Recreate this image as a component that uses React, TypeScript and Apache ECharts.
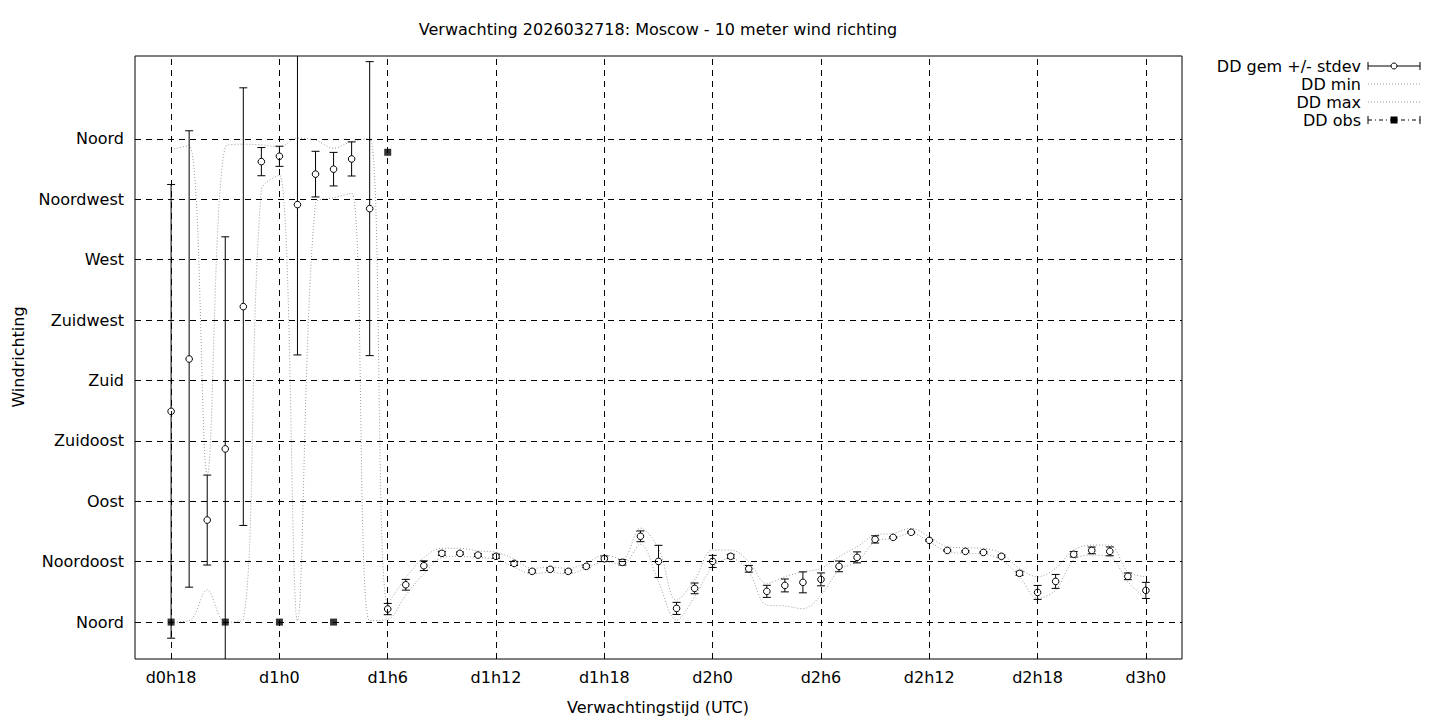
import React, { useEffect, useRef } from "react";
import * as echarts from "echarts";

const hours = [18, 19, 20, 21, 22, 23, 24, 25, 26, 27, 28, 29, 30, 31, 32, 33, 34, 35, 36, 37, 38, 39, 40, 41, 42, 43, 44, 45, 46, 47, 48, 49, 50, 51, 52, 53, 54, 55, 56, 57, 58, 59, 60, 61, 62, 63, 64, 65, 66, 67, 68, 69, 70, 71, 72];
const ddMean = [157, 196, 76, 129, 235, 343, 347, 311, 333.7, 337.4, 345, 308, 9.7, 27.8, 42, 51.2, 51.2, 49.9, 49, 43.7, 37.8, 39.3, 37.8, 41.5, 47.2, 44.5, 63.9, 45.2, 10.2, 25.1, 45.2, 49, 39.7, 22.9, 27.3, 29.6, 31.8, 41.5, 48.2, 61.6, 63.1, 66.9, 60.9, 53.4, 52.7, 51.9, 49, 36.3, 22.1, 30.3, 50.5, 53.4, 52.7, 34.1, 23.6];
const ddStdev = [169, 170, 33.5, 158, 163, 10.5, 7.5, 112, 17, 12.5, 12.7, 109.5, 4.2, 4, 3.6, 1.5, 1, 1, 1.5, 1.5, 1, 1, 1, 1, 2, 2, 4, 12, 4.5, 4, 4.5, 1.5, 2.5, 4.5, 4.8, 7.8, 4.8, 4, 4.1, 2.7, 0.5, 0.5, 0.5, 0.5, 0.5, 0.5, 1, 1.5, 5.2, 5.2, 2, 2.5, 3.3, 2.5, 6];
const ddMax = [352, 355, 110, 354, 356, 355.5, 354, 360.5, 359, 353, 358, 360.5, 14, 33, 48, 55, 55, 53, 52, 47, 40, 41, 40, 44, 50, 47, 70, 55, 16.4, 31.3, 53.7, 53.7, 45, 28.8, 33.8, 37.5, 40, 48.7, 56.1, 64.8, 66.1, 69.8, 63.6, 56.1, 55.4, 54.9, 51.2, 40, 33.8, 40, 53.7, 57.4, 57.4, 37.5, 33.8];
const ddMin = [0, 1, 24, 0, 2, 322, 333, 1, 312, 316, 319.5, 1, 2, 20, 36, 48, 49, 48, 47, 41, 36, 37, 36, 40, 45, 43, 58, 30, 1.5, 18.9, 41.2, 47.5, 37.5, 12.7, 12, 10, 20, 38.8, 45, 59.9, 62.4, 66.1, 59.9, 52.4, 51.2, 50.7, 46.2, 33.8, 17.7, 23.8, 46.2, 49.9, 48.7, 30, 17.7];
const obsHours = [18, 21, 24, 27, 30];
const obsValues = [0, 0, 0, 0, 350];

const xTickValues = [18, 24, 30, 36, 42, 48, 54, 60, 66, 72];
const xTickLabels = ["d0h18", "d1h0", "d1h6", "d1h12", "d1h18", "d2h0", "d2h6", "d2h12", "d2h18", "d3h0"];
const yTickValues = [0, 45, 90, 135, 180, 225, 270, 315, 360];
const yTickLabels = ["Noord", "Noordoost", "Oost", "Zuidoost", "Zuid", "Zuidwest", "West", "Noordwest", "Noord"];

const FONT = "DejaVu Sans";
const FS = 16;
const GRID_DASH = [6, 5];
const DOT_COLOR = "#9a9a9a";

export default function App() {
  const ref = useRef<HTMLDivElement>(null);

  useEffect(() => {
    if (!ref.current) return;
    const chart = echarts.init(ref.current, null, { renderer: "svg" });

    const errData = hours.map((h, i) => [h, ddMean[i], ddStdev[i]]);
    const maxData = hours.map((h, i) => [h, ddMax[i]]);
    const minData = hours.map((h, i) => [h, ddMin[i]]);
    const obsData = obsHours.map((h, i) => [h, obsValues[i]]);

    const lx = 1368, rx = 1420, cx = 1394, tx = 1361;
    const rows = [66, 84, 102, 120];
    const font = `${FS}px "${FONT}"`;

    const option: any = {
      animation: false,
      backgroundColor: "#fff",
      grid: {
        left: 135,
        top: 56,
        width: 1047,
        height: 603,
        show: true,
        borderColor: "#000",
        borderWidth: 1,
        backgroundColor: "transparent",
      },
      xAxis: {
        type: "value",
        min: 16,
        max: 74,
        axisLine: { show: false },
        axisTick: { show: false },
        splitLine: { show: false },
        axisLabel: {
          customValues: xTickValues,
          formatter: (v: number) => {
            const idx = xTickValues.indexOf(v);
            return idx >= 0 ? xTickLabels[idx] : "";
          },
          color: "#000",
          fontFamily: FONT,
          fontSize: FS,
          margin: 10,
        },
      },
      yAxis: {
        type: "value",
        min: -27.5,
        max: 421.7,
        axisLine: { show: false },
        axisTick: { show: false },
        splitLine: { show: false },
        axisLabel: {
          customValues: yTickValues,
          formatter: (v: number) => {
            const idx = yTickValues.indexOf(v);
            return idx >= 0 ? yTickLabels[idx] : "";
          },
          color: "#000",
          fontFamily: FONT,
          fontSize: FS,
          margin: 11,
        },
      },
      series: [
        {
          name: "grid",
          type: "line",
          data: [],
          z: 1,
          silent: true,
          markLine: {
            silent: true,
            symbol: ["none", "none"],
            label: { show: false },
            lineStyle: { color: "#000", width: 1, type: GRID_DASH },
            data: [
              ...xTickValues.map((v) => ({ xAxis: v })),
              ...yTickValues.map((v) => ({ yAxis: v })),
            ],
          },
        },
        {
          name: "DD min",
          type: "line",
          data: minData,
          z: 2,
          smooth: 0.35,
          showSymbol: false,
          lineStyle: { color: DOT_COLOR, width: 1, type: [1, 2] },
        },
        {
          name: "DD max",
          type: "line",
          data: maxData,
          z: 2,
          smooth: 0.35,
          showSymbol: false,
          lineStyle: { color: DOT_COLOR, width: 1, type: [1, 2] },
        },
        {
          name: "DD gem +/- stdev",
          type: "custom",
          z: 3,
          clip: true,
          data: errData,
          renderItem: (params: any, api: any) => {
            const x = api.value(0);
            const m = api.value(1);
            const s = api.value(2);
            const p = api.coord([x, m]);
            const t = api.coord([x, m + s]);
            const b = api.coord([x, m - s]);
            const st = { stroke: "#000", lineWidth: 1 };
            return {
              type: "group",
              children: [
                { type: "line", shape: { x1: p[0], y1: t[1], x2: p[0], y2: b[1] }, style: st },
                { type: "line", shape: { x1: p[0] - 4, y1: t[1], x2: p[0] + 4, y2: t[1] }, style: st },
                { type: "line", shape: { x1: p[0] - 4, y1: b[1], x2: p[0] + 4, y2: b[1] }, style: st },
                { type: "circle", shape: { cx: p[0], cy: p[1], r: 3.3 }, style: { fill: "#fff", stroke: "#000", lineWidth: 1 } },
              ],
            };
          },
        },
        {
          name: "DD obs",
          type: "scatter",
          z: 4,
          data: obsData,
          symbol: "rect",
          symbolSize: 7,
          itemStyle: { color: "#000" },
        },
      ],
      graphic: [
        {
          type: "text",
          x: 658,
          y: 29,
          style: { text: "Verwachting 2026032718: Moscow - 10 meter wind richting", fill: "#000", font, align: "center", verticalAlign: "middle" },
        },
        {
          type: "text",
          x: 658,
          y: 707,
          style: { text: "Verwachtingstijd (UTC)", fill: "#000", font, align: "center", verticalAlign: "middle" },
        },
        {
          type: "text",
          x: 18,
          y: 357,
          rotation: Math.PI / 2,
          style: { text: "Windrichting", fill: "#000", font, align: "center", verticalAlign: "middle" },
        },
        ...["DD gem +/- stdev", "DD min", "DD max", "DD obs"].map((t, i) => ({
          type: "text",
          x: tx,
          y: rows[i],
          style: { text: t, fill: "#000", font, align: "right", verticalAlign: "middle" },
        })),
        { type: "line", shape: { x1: lx, y1: rows[0], x2: rx, y2: rows[0] }, style: { stroke: "#000", lineWidth: 1 } },
        { type: "line", shape: { x1: lx, y1: rows[0] - 4, x2: lx, y2: rows[0] + 4 }, style: { stroke: "#000", lineWidth: 1 } },
        { type: "line", shape: { x1: rx, y1: rows[0] - 4, x2: rx, y2: rows[0] + 4 }, style: { stroke: "#000", lineWidth: 1 } },
        { type: "circle", shape: { cx: cx, cy: rows[0], r: 3 }, style: { fill: "#fff", stroke: "#000", lineWidth: 1 } },
        { type: "line", shape: { x1: lx, y1: rows[1], x2: rx, y2: rows[1] }, style: { stroke: DOT_COLOR, lineWidth: 1, lineDash: [1, 2] } },
        { type: "line", shape: { x1: lx, y1: rows[2], x2: rx, y2: rows[2] }, style: { stroke: DOT_COLOR, lineWidth: 1, lineDash: [1, 2] } },
        { type: "line", shape: { x1: lx, y1: rows[3], x2: rx, y2: rows[3] }, style: { stroke: "#000", lineWidth: 1, lineDash: [4, 3, 1, 3] } },
        { type: "line", shape: { x1: lx, y1: rows[3] - 4, x2: lx, y2: rows[3] + 4 }, style: { stroke: "#000", lineWidth: 1 } },
        { type: "line", shape: { x1: rx, y1: rows[3] - 4, x2: rx, y2: rows[3] + 4 }, style: { stroke: "#000", lineWidth: 1 } },
        { type: "rect", shape: { x: cx - 3.5, y: rows[3] - 3.5, width: 7, height: 7 }, style: { fill: "#000" } },
      ],
    };

    chart.setOption(option);
    return () => chart.dispose();
  }, []);

  return (
    <div
      ref={ref}
      style={{ position: "fixed", left: 0, top: 0, width: 1440, height: 720, background: "#fff" }}
    />
  );
}
